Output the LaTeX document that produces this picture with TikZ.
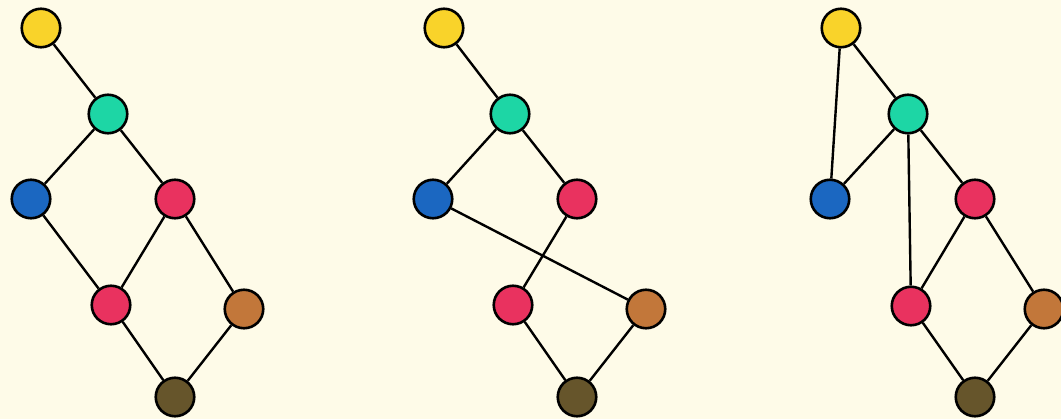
\documentclass[tikz,border=0pt]{standalone}
\definecolor{bg}{HTML}{FEFBE8}
\definecolor{cy}{HTML}{F9D32A}
\definecolor{cg}{HTML}{1DD6A5}
\definecolor{cb}{HTML}{1B67C1}
\definecolor{cr}{HTML}{E9325F}
\definecolor{co}{HTML}{C2773A}
\definecolor{cn}{HTML}{66552B}
\begin{document}
\begin{tikzpicture}[x=1pt,y=-1pt,
  vtx/.style={circle,draw=black,line width=2.6pt,minimum size=38.5pt,inner sep=0pt},
  edge/.style={line width=2.4pt,draw=black}]
\fill[bg] (0,0) rectangle (1061,419);
\useasboundingbox (0,0) rectangle (1061,419);
% graph 1
\node[vtx,fill=cy] (a1) at (41,28) {};
\node[vtx,fill=cg] (b1) at (108,114) {};
\node[vtx,fill=cb] (c1) at (31,199) {};
\node[vtx,fill=cr] (d1) at (175,199) {};
\node[vtx,fill=cr] (e1) at (111,305) {};
\node[vtx,fill=co] (f1) at (244,309) {};
\node[vtx,fill=cn] (g1) at (175,397) {};
% graph 2
\node[vtx,fill=cy] (a2) at (444,28) {};
\node[vtx,fill=cg] (b2) at (510,114) {};
\node[vtx,fill=cb] (c2) at (433,199) {};
\node[vtx,fill=cr] (d2) at (577,199) {};
\node[vtx,fill=cr] (e2) at (513,305) {};
\node[vtx,fill=co] (f2) at (646,309) {};
\node[vtx,fill=cn] (g2) at (577,397) {};
% graph 3
\node[vtx,fill=cy] (a3) at (841,28) {};
\node[vtx,fill=cg] (b3) at (908,114) {};
\node[vtx,fill=cb] (c3) at (830,199) {};
\node[vtx,fill=cr] (d3) at (975,199) {};
\node[vtx,fill=cr] (e3) at (911,306) {};
\node[vtx,fill=co] (f3) at (1044,309) {};
\node[vtx,fill=cn] (g3) at (975,397) {};
\draw[edge] (a1)--(b1) (b1)--(c1) (b1)--(d1) (c1)--(e1) (d1)--(e1) (d1)--(f1) (e1)--(g1) (f1)--(g1);
\draw[edge] (a2)--(b2) (b2)--(c2) (b2)--(d2) (c2)--(f2) (d2)--(e2) (e2)--(g2) (f2)--(g2);
\draw[edge] (a3)--(b3) (a3)--(c3) (b3)--(c3) (b3)--(d3) (b3)--(e3) (d3)--(e3) (d3)--(f3) (e3)--(g3) (f3)--(g3);
\end{tikzpicture}
\end{document}
